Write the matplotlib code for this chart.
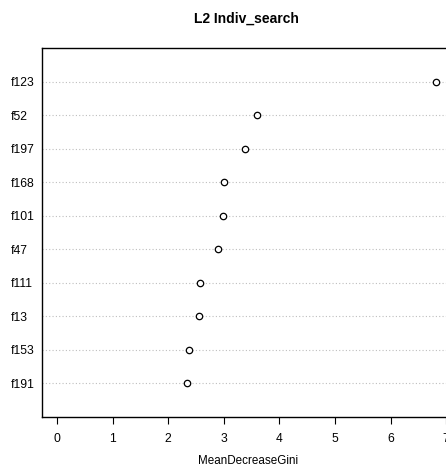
import matplotlib.pyplot as plt
import numpy as np

plt.rcParams['font.family'] = ['Liberation Sans', 'DejaVu Sans']

# variable importance, top to bottom
features = ["f123", "f52", "f197", "f168", "f101", "f47", "f111", "f13", "f153", "f191"]
gini = [6.81, 3.60, 3.38, 3.00, 2.99, 2.90, 2.58, 2.55, 2.38, 2.34]

W, H = 446, 472
fig = plt.figure(figsize=(W / 100, H / 100), dpi=100)

# plot region in pixels: left 41.9, right 450.8, top 48.3, bottom 416.7
left, right, top, bottom = 41.9, 450.8, 48.3, 416.7
ax = fig.add_axes([left / W, 1 - bottom / H, (right - left) / W, (bottom - top) / H])

n = len(features)
ypos = np.arange(n, 0, -1)

for y in ypos:
    ax.axhline(y, color="#bebebe", linestyle=(0, (1, 2)), linewidth=0.8, zorder=1)

ax.plot(gini, ypos, linestyle="none", marker="o", markersize=4.6,
        markerfacecolor="white", markeredgecolor="black", markeredgewidth=0.9, zorder=3)

xmax = max(gini)
ax.set_xlim(-0.04 * xmax, 1.04 * xmax)
ax.set_ylim(0, n + 1)

ax.set_xticks(range(0, 8))
ax.tick_params(axis="x", length=4.7, width=0.8, pad=7.2, labelsize=8.7)
ax.set_yticks(ypos)
ax.set_yticklabels(features)
ax.tick_params(axis="y", length=0, pad=22.2, labelsize=8.7)
for lab in ax.get_yticklabels():
    lab.set_horizontalalignment("left")

for s in ax.spines.values():
    s.set_linewidth(1.0)

fig.text(248 / W, 1 - 461 / H, "MeanDecreaseGini", ha="center", va="center", fontsize=8.4)
fig.text(246 / W, 1 - 19 / H, "L2 Indiv_search", ha="center", va="center",
         fontsize=10, fontweight="bold")

fig.savefig("out.png", dpi=100)
